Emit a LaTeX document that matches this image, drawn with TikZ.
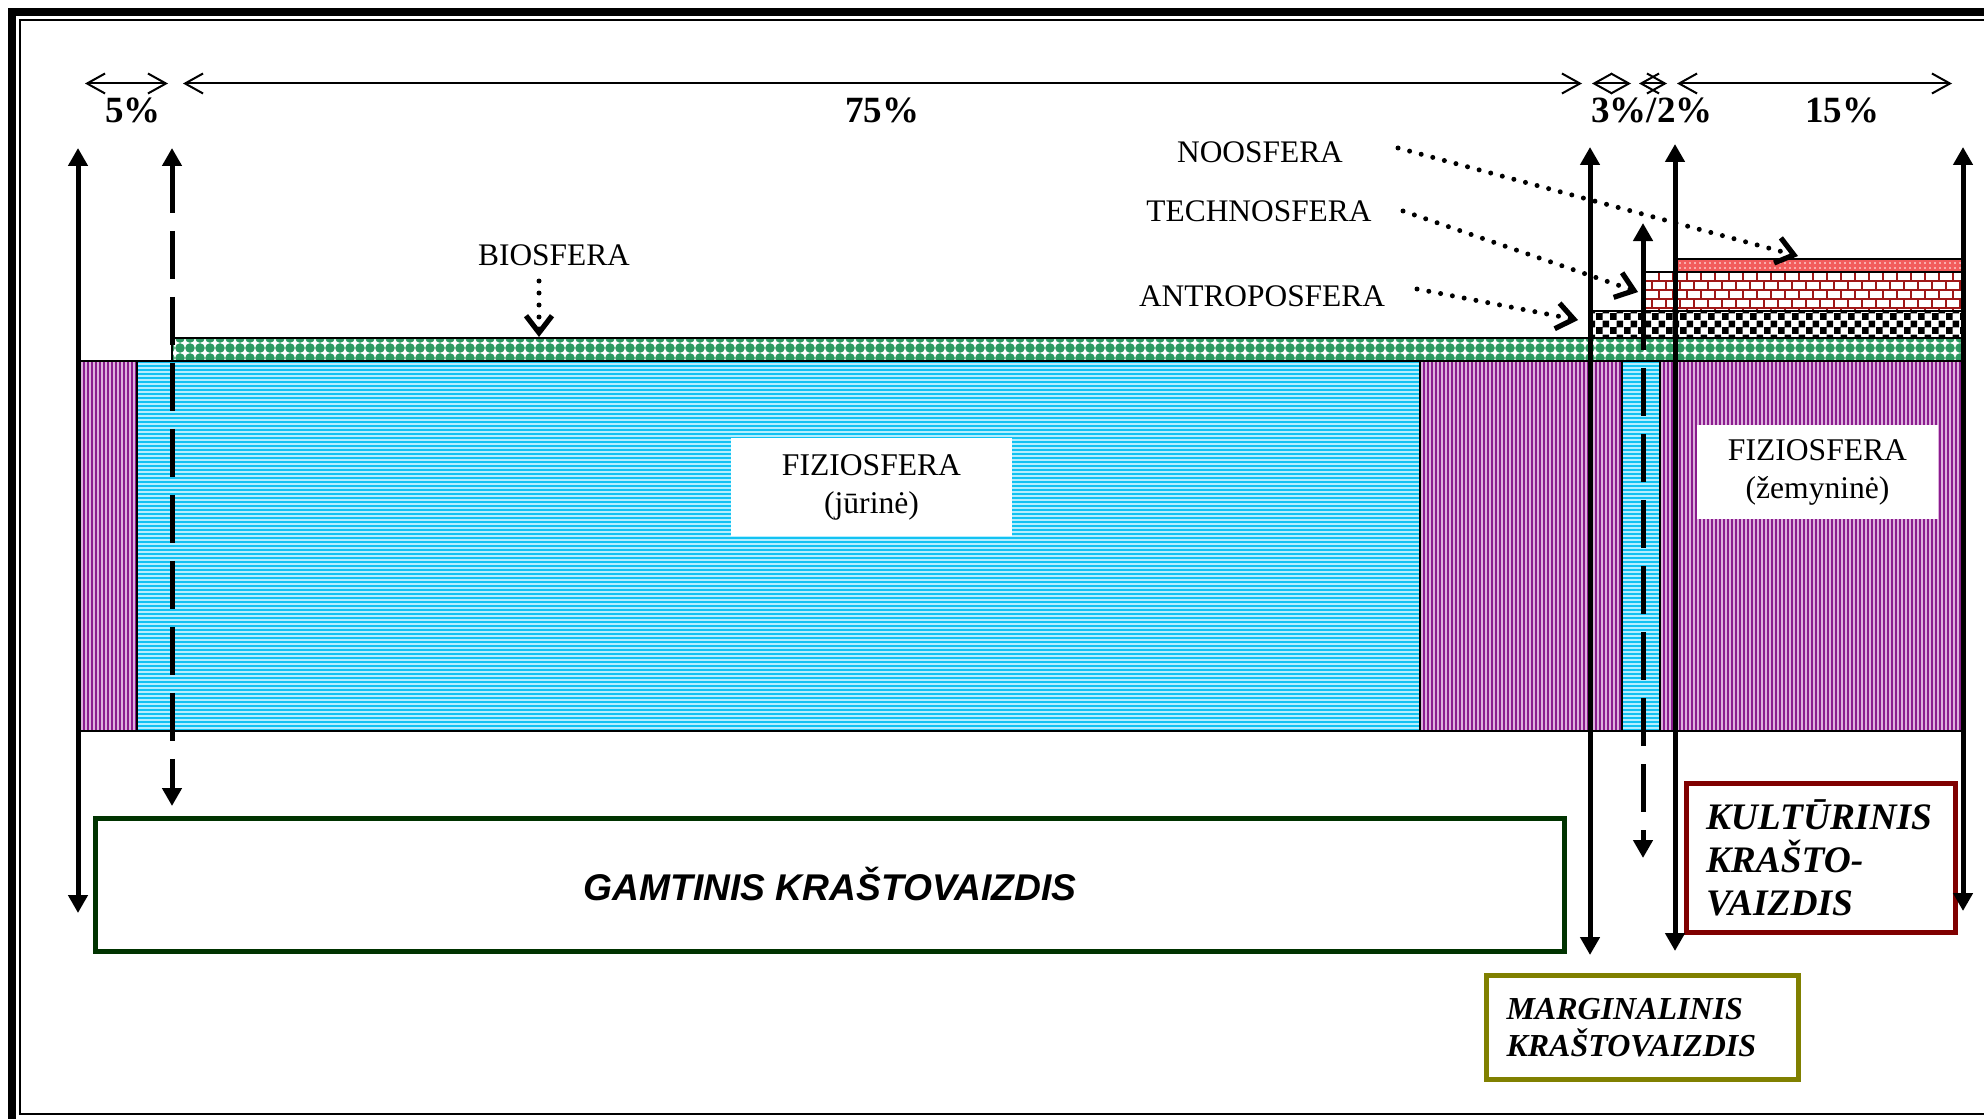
\documentclass[tikz,border=0pt]{standalone}
\usepackage{fontspec}
\setmainfont{Liberation Serif}
\setsansfont{Liberation Sans}
\usetikzlibrary{arrows.meta,patterns,patterns.meta}

\definecolor{purpfg}{HTML}{8A1C8E}
\definecolor{purpbg}{HTML}{DDB0DD}
\definecolor{cyanfg}{HTML}{12C2F2}
\definecolor{cyanbg}{HTML}{B5EEFF}
\definecolor{biogreen}{HTML}{2E9A62}
\definecolor{brickred}{HTML}{A01818}
\definecolor{noored}{HTML}{F25C5C}
\definecolor{gamtgreen}{HTML}{003300}
\definecolor{kultred}{HTML}{800000}
\definecolor{margolive}{HTML}{808000}

\pgfdeclarepatternformonly{bigchecker}{\pgfpointorigin}{\pgfqpoint{7pt}{7pt}}{\pgfqpoint{7pt}{7pt}}{%
  \pgfpathrectangle{\pgfpointorigin}{\pgfqpoint{3.55pt}{3.55pt}}%
  \pgfpathrectangle{\pgfqpoint{3.5pt}{3.5pt}}{\pgfqpoint{3.55pt}{3.55pt}}%
  \pgfusepath{fill}}

\pgfdeclarepatternformonly{mybricks}{\pgfqpoint{-0.5pt}{-0.5pt}}{\pgfqpoint{7.5pt}{9.5pt}}{\pgfqpoint{7pt}{9pt}}{%
  \pgfsetlinewidth{0.9pt}%
  \pgfpathmoveto{\pgfqpoint{0pt}{0pt}}\pgfpathlineto{\pgfqpoint{7pt}{0pt}}%
  \pgfpathmoveto{\pgfqpoint{0pt}{4.5pt}}\pgfpathlineto{\pgfqpoint{7pt}{4.5pt}}%
  \pgfpathmoveto{\pgfqpoint{0pt}{0pt}}\pgfpathlineto{\pgfqpoint{0pt}{4.5pt}}%
  \pgfpathmoveto{\pgfqpoint{3.5pt}{4.5pt}}\pgfpathlineto{\pgfqpoint{3.5pt}{9pt}}%
  \pgfusepath{stroke}}

\begin{document}
\begin{tikzpicture}[x=0.5pt,y=-0.5pt,
  land/.style={preaction={fill=purpbg}, pattern={Lines[angle=90,distance=2pt,line width=1pt]}, pattern color=purpfg, draw=black, line width=0.75pt},
  sea/.style={preaction={fill=cyanbg}, pattern={Lines[angle=0,distance=2pt,line width=1pt]}, pattern color=cyanfg, draw=black, line width=0.75pt},
  bioband/.style={preaction={fill=white}, pattern={Dots[radius=2.4pt,distance=5pt]}, pattern color=biogreen, draw=black, line width=0.75pt},
  antband/.style={preaction={fill=white}, pattern=bigchecker, pattern color=black, draw=black, line width=0.75pt},
  techband/.style={preaction={fill=white}, pattern=mybricks, pattern color=brickred, draw=black, line width=0.75pt},
  nooband/.style={preaction={fill=noored}, pattern={Dots[radius=0.45pt,distance=2.5pt]}, pattern color=white, draw=black, line width=0.75pt},
  dimarr/.style={line width=1pt, arrows={Straight Barb[length=9pt,width=10pt,line width=1pt]-Straight Barb[length=9pt,width=10pt,line width=1pt]}},
  vboth/.style={line width=2.5pt, arrows={Triangle[length=9pt,width=9.5pt]-Triangle[length=9pt,width=9.5pt]}},
  vone/.style={line width=2.5pt, arrows={-Triangle[length=9pt,width=9.5pt]}},
  longdash/.style={dash pattern=on 24pt off 9pt},
  dotarr/.style={line width=2.5pt, line cap=round, dash pattern=on 0pt off 6pt, arrows={-Straight Barb[length=8.5pt,width=13pt,line width=2.6pt]}},
  sph/.style={font=\fontsize{15.7}{19}\selectfont, inner sep=0pt},
  pct/.style={font=\bfseries\fontsize{18.5}{22}\selectfont, inner sep=0pt},
  fizio/.style={fill=white, font=\fontsize{15.8}{19}\selectfont, align=center, inner sep=0pt},
  lbox/.style={line width=2.5pt, fill=white, inner sep=0pt}
]
\path[use as bounding box, clip] (0,0) rectangle (1984,1118);
\fill[white] (0,0) rectangle (1984,1118);

% frame
\draw[line width=4pt] (12,12) rectangle (2010,1135);
\draw[line width=1pt] (20,20) rectangle (1994,1114);

% physiosphere band
\draw[land] (80,361) rectangle (137,731);
\draw[sea] (137,361) rectangle (1420,731);
\draw[land] (1420,361) rectangle (1622,731);
\draw[sea] (1622,361) rectangle (1660,731);
\draw[land] (1660,361) rectangle (1963,731);

% upper spheres
\draw[bioband] (172,338) rectangle (1963,361);
\draw[antband] (1590,311) rectangle (1963,338);
\draw[techband] (1643,272) rectangle (1963,311);
\draw[nooband] (1677,259) rectangle (1963,272);

% white label boxes
\node[fizio, minimum width=140.5pt, minimum height=49pt] (fizjur) at (871.5,487) {FIZIOSFERA\\(jūrinė)};
\node[fizio, minimum width=120.5pt, minimum height=47pt] (fizzem) at (1817.5,472) {FIZIOSFERA\\(žemyninė)};

% sphere labels
\node[sph] (noo) at (1260,152) {NOOSFERA};
\node[sph] (tech) at (1259,211) {TECHNOSFERA};
\node[sph] (antr) at (1262,296) {ANTROPOSFERA};
\node[sph] (bio) at (554,255) {BIOSFERA};

% percent labels
\node[pct] (p5) at (133,110) {5\%};
\node[pct] (p75) at (882,110) {75\%};
\node[pct] (p32) at (1652,110) {3\%/2\%};
\node[pct] (p15) at (1842,110) {15\%};

% dimension arrows
\coordinate (d0) at (85,83.5);
\coordinate (d1) at (168,83.5);
\coordinate (d2) at (183,83.5);
\coordinate (d3) at (1582,83.5);
\coordinate (d4) at (1592,83.5);
\coordinate (d5) at (1631,83.5);
\coordinate (d6) at (1639,83.5);
\coordinate (d7) at (1667,83.5);
\coordinate (d8) at (1677,83.5);
\coordinate (d9) at (1952,83.5);
\draw[dimarr] (d0) -- (d1);
\draw[dimarr] (d2) -- (d3);
\draw[dimarr] (d4) -- (d5);
\draw[dimarr] (d6) -- (d7);
\draw[dimarr] (d8) -- (d9);

% landscape boxes
\node[lbox, draw=gamtgreen, minimum width=734.5pt, minimum height=66.5pt, anchor=north west,
      font=\sffamily\bfseries\itshape\fontsize{18.6}{22}\selectfont] (gamt) at (93,815.5) {GAMTINIS KRAŠTOVAIZDIS};
\node[lbox, draw=kultred, minimum width=134.5pt, minimum height=74.5pt, anchor=north west,
      text width=115pt, inner xsep=9.75pt, align=left,
      font=\bfseries\itshape\fontsize{18.7}{21.5}\selectfont] (kult) at (1684,780.5) {KULTŪRINIS\\KRAŠTO-\\VAIZDIS};
\node[lbox, draw=margolive, minimum width=156pt, minimum height=52pt, anchor=north west,
      text width=136pt, inner xsep=10pt, align=left,
      font=\bfseries\itshape\fontsize{16}{18.5}\selectfont] (marg) at (1484,973) {MARGINALINIS\\KRAŠTOVAIZDIS};

% vertical arrows
\coordinate (a1t) at (78,148);   \coordinate (a1b) at (78,913);
\coordinate (a2t) at (172,148);  \coordinate (a2b) at (172,806);
\coordinate (a3t) at (1590,147); \coordinate (a3b) at (1590,955);
\coordinate (a4s) at (1643,350); \coordinate (a4t) at (1643,223);
\coordinate (a4d) at (1643,368); \coordinate (a4b) at (1643,858);
\coordinate (a5t) at (1675,144); \coordinate (a5b) at (1675,951);
\coordinate (a6t) at (1963,147); \coordinate (a6b) at (1963,911);
\draw[vboth] (a1t) -- (a1b);
\draw[vboth, longdash] (a2t) -- (a2b);
\draw[vboth] (a3t) -- (a3b);
\draw[vone] (a4s) -- (a4t);
\draw[vone, longdash] (a4d) -- (a4b);
\draw[vboth] (a5t) -- (a5b);
\draw[vboth] (a6t) -- (a6b);

% dotted pointers
\coordinate (nooa) at (1398,148);  \coordinate (noob) at (1798,256);
\coordinate (techa) at (1403,211); \coordinate (techb) at (1638,292);
\coordinate (antra) at (1417,289); \coordinate (antrb) at (1578,320);
\coordinate (bioa) at (539,281);   \coordinate (biob) at (539,337);
\draw[dotarr] (nooa) -- (noob);
\draw[dotarr] (techa) -- (techb);
\draw[dotarr] (antra) -- (antrb);
\draw[dotarr] (bioa) -- (biob);
\end{tikzpicture}
\end{document}
